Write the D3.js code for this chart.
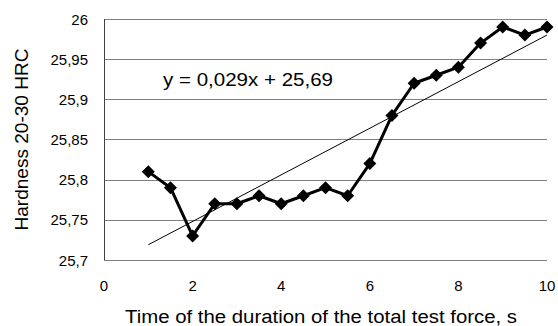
<!DOCTYPE html>
<html>
<head>
<meta charset="utf-8">
<script src="https://cdn.jsdelivr.net/npm/d3@7"></script>
<style>
  body { margin: 0; background: #fff; }
  text { font-family: "Liberation Sans", Arial, sans-serif; fill: #000; }
</style>
</head>
<body>
<svg id="chart" width="558" height="326"></svg>
<script>
// data
const times = [1, 1.5, 2, 2.5, 3, 3.5, 4, 4.5, 5, 5.5, 6, 6.5, 7, 7.5, 8, 8.5, 9, 9.5, 10]
const hardness = [25.81, 25.79, 25.73, 25.77, 25.77, 25.78, 25.77, 25.78, 25.79, 25.78, 25.82, 25.88, 25.92, 25.93, 25.94, 25.97, 25.99, 25.98, 25.99]
const xTicks = [0, 2, 4, 6, 8, 10]
const yTicks = [25.7, 25.75, 25.8, 25.85, 25.9, 25.95, 26]
const trendSlope = 0.029
const trendIntercept = 25.69
const trendLabel = "y = 0,029x + 25,69"

const margin = {top: 19, left: 104, right: 11, bottom: 66}
const width = 558, height = 326

const svg = d3.select("#chart")

let x = d3.scaleLinear()
    .domain([0, 10])
    .range([margin.left, width - margin.right])
let y = d3.scaleLinear()
    .domain([25.7, 26])
    .range([height - margin.bottom, margin.top])

const fmt = d => d.toString().replace(".", ",")

// grid lines
svg.append("g")
    .selectAll("line")
    .data(yTicks)
    .join("line")
    .attr("x1", x(0))
    .attr("x2", x(10))
    .attr("y1", d => Math.round(y(d)) + 0.5)
    .attr("y2", d => Math.round(y(d)) + 0.5)
    .attr("stroke", "#808080")
    .attr("stroke-width", 1)

// left axis line
svg.append("line")
    .attr("x1", Math.round(x(0)) + 0.5)
    .attr("x2", Math.round(x(0)) + 0.5)
    .attr("y1", y(26))
    .attr("y2", y(25.7))
    .attr("stroke", "#404040")

// y tick labels
svg.append("g")
    .selectAll("text")
    .data(yTicks)
    .join("text")
    .attr("x", 88)
    .attr("y", d => y(d) + 5.5)
    .attr("text-anchor", "end")
    .attr("font-size", "15px")
    .text(fmt)

// x tick labels
svg.append("g")
    .selectAll("text")
    .data(xTicks)
    .join("text")
    .attr("x", d => x(d))
    .attr("y", 291)
    .attr("text-anchor", "middle")
    .attr("font-size", "15px")
    .text(d => d)

// axis titles
svg.append("text")
    .attr("transform", `translate(28, ${(y(26) + y(25.7)) / 2}) rotate(-90)`)
    .attr("text-anchor", "middle")
    .attr("font-size", "18.5px")
    .attr("textLength", 182)
    .attr("lengthAdjust", "spacingAndGlyphs")
    .text("Hardness 20-30 HRC")

svg.append("text")
    .attr("x", 125)
    .attr("y", 323)
    .attr("font-size", "18px")
    .attr("textLength", 392)
    .attr("lengthAdjust", "spacingAndGlyphs")
    .text("Time of the duration of the total test force, s")

// trend line
svg.append("line")
    .attr("x1", x(times[0]))
    .attr("y1", y(trendSlope * times[0] + trendIntercept))
    .attr("x2", x(times[times.length - 1]))
    .attr("y2", y(trendSlope * times[times.length - 1] + trendIntercept))
    .attr("stroke", "#000")
    .attr("stroke-width", 1)

svg.append("text")
    .attr("x", 163)
    .attr("y", 86)
    .attr("font-size", "19px")
    .attr("textLength", 170)
    .attr("lengthAdjust", "spacingAndGlyphs")
    .text(trendLabel)

// data line
const line = d3.line()
    .x((d, i) => x(times[i]))
    .y(d => y(d))

svg.append("path")
    .datum(hardness)
    .attr("d", line)
    .attr("fill", "none")
    .attr("stroke", "#000")
    .attr("stroke-width", 3)
    .attr("stroke-linejoin", "round")

// diamond markers
svg.append("g")
    .selectAll("path")
    .data(hardness)
    .join("path")
    .attr("transform", (d, i) => `translate(${x(times[i])}, ${y(d)})`)
    .attr("d", "M0,-6.5L6.5,0L0,6.5L-6.5,0Z")
    .attr("fill", "#000")
</script>
</body>
</html>
